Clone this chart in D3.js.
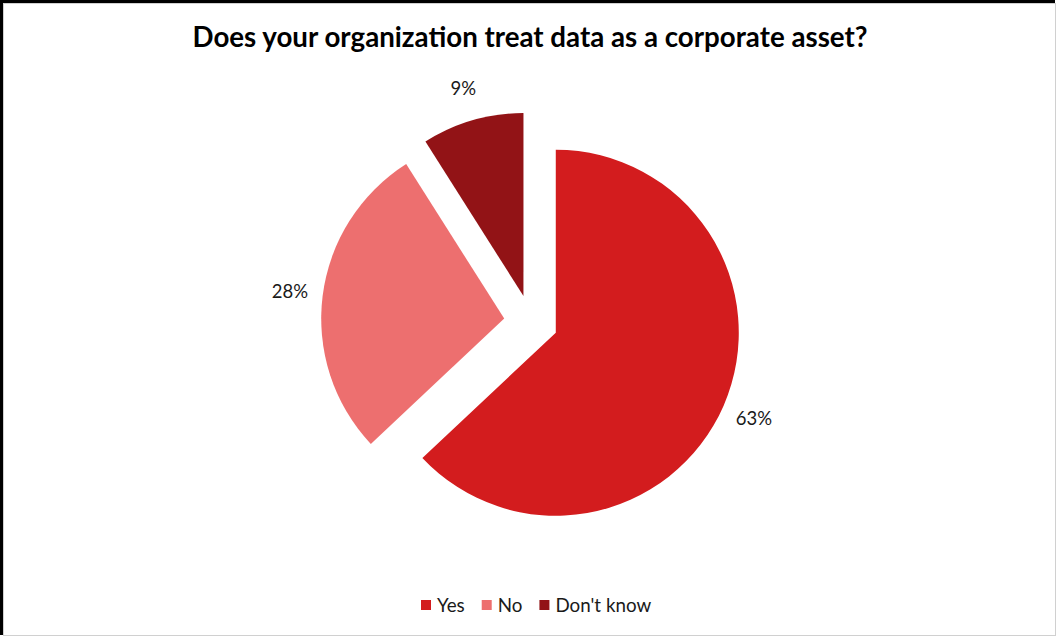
<!DOCTYPE html>
<html>
<head>
<meta charset="utf-8">
<script src="https://cdn.jsdelivr.net/npm/d3@7"></script>
<style>
  html, body { margin: 0; padding: 0; background: #fff; }
  svg { display: block; }
</style>
</head>
<body>
<svg id="chart" width="1057" height="637"></svg>
<script>
// Survey answers and their shares (percent)
const categories = ["Yes", "No", "Don't know"];
const shares = [63, 28, 9];
const colors = ["#D31C1E", "#ED6F6F", "#921316"];
const title = "Does your organization treat data as a corporate asset?";

const W = 1057, H = 637;
const svg = d3.select("#chart");

// frame
svg.append("rect").attr("x", 3.5).attr("y", 3.5).attr("width", W - 5).attr("height", H - 5)
  .attr("fill", "#fff").attr("stroke", "#d0d0d0").attr("stroke-width", 1);
svg.append("rect").attr("x", 0).attr("y", 0).attr("width", W - 2).attr("height", 3).attr("fill", "#000");
svg.append("rect").attr("x", 0).attr("y", 0).attr("width", 3).attr("height", H - 2).attr("fill", "#000");

svg.append("text")
  .attr("x", 530).attr("y", 47)
  .attr("text-anchor", "middle")
  .attr("font-family", "Lato, 'Open Sans', sans-serif")
  .attr("font-weight", "bold")
  .attr("font-size", 27.7)
  .attr("fill", "#000")
  .text(title);

// pie geometry
const cx = 531, cy = 322, radius = 183, explode = 27, labelGap = 33;

const data = categories.map((c, i) => ({ name: c, value: shares[i], color: colors[i] }));
const pie = d3.pie().value(d => d.value).sort(null);
const arc = d3.arc().innerRadius(0).outerRadius(radius);
const arcs = pie(data);

const g = svg.append("g").attr("transform", `translate(${cx},${cy})`);

arcs.forEach(a => {
  const mid = (a.startAngle + a.endAngle) / 2;
  const dx = Math.sin(mid), dy = -Math.cos(mid);
  const ox = explode * dx, oy = explode * dy;
  const slice = g.append("g").attr("transform", `translate(${ox},${oy})`);
  slice.append("path").attr("d", arc(a)).attr("fill", a.data.color);

  // label just outside the slice rim
  const lr = radius + labelGap;
  slice.append("text")
    .attr("x", lr * dx)
    .attr("y", lr * dy)
    .attr("dy", "0.35em")
    .attr("text-anchor", "middle")
    .attr("font-family", "Lato, 'Open Sans', sans-serif")
    .attr("font-size", 18.5)
    .attr("fill", "#1a1a1a")
    .text(a.data.value + "%");
});

// legend
const legend = svg.append("g").attr("transform", "translate(421,605)");
let lx = 0;
data.forEach(d => {
  const item = legend.append("g").attr("transform", `translate(${lx},0)`);
  item.append("rect").attr("x", 0).attr("y", -5).attr("width", 10).attr("height", 10).attr("fill", d.color);
  const t = item.append("text")
    .attr("x", 16).attr("y", 0).attr("dy", "0.35em")
    .attr("font-family", "Lato, 'Open Sans', sans-serif")
    .attr("font-size", 18.8)
    .attr("fill", "#1a1a1a")
    .text(d.name);
  lx += 16 + t.node().getComputedTextLength() + 17;
});
</script>
</body>
</html>
